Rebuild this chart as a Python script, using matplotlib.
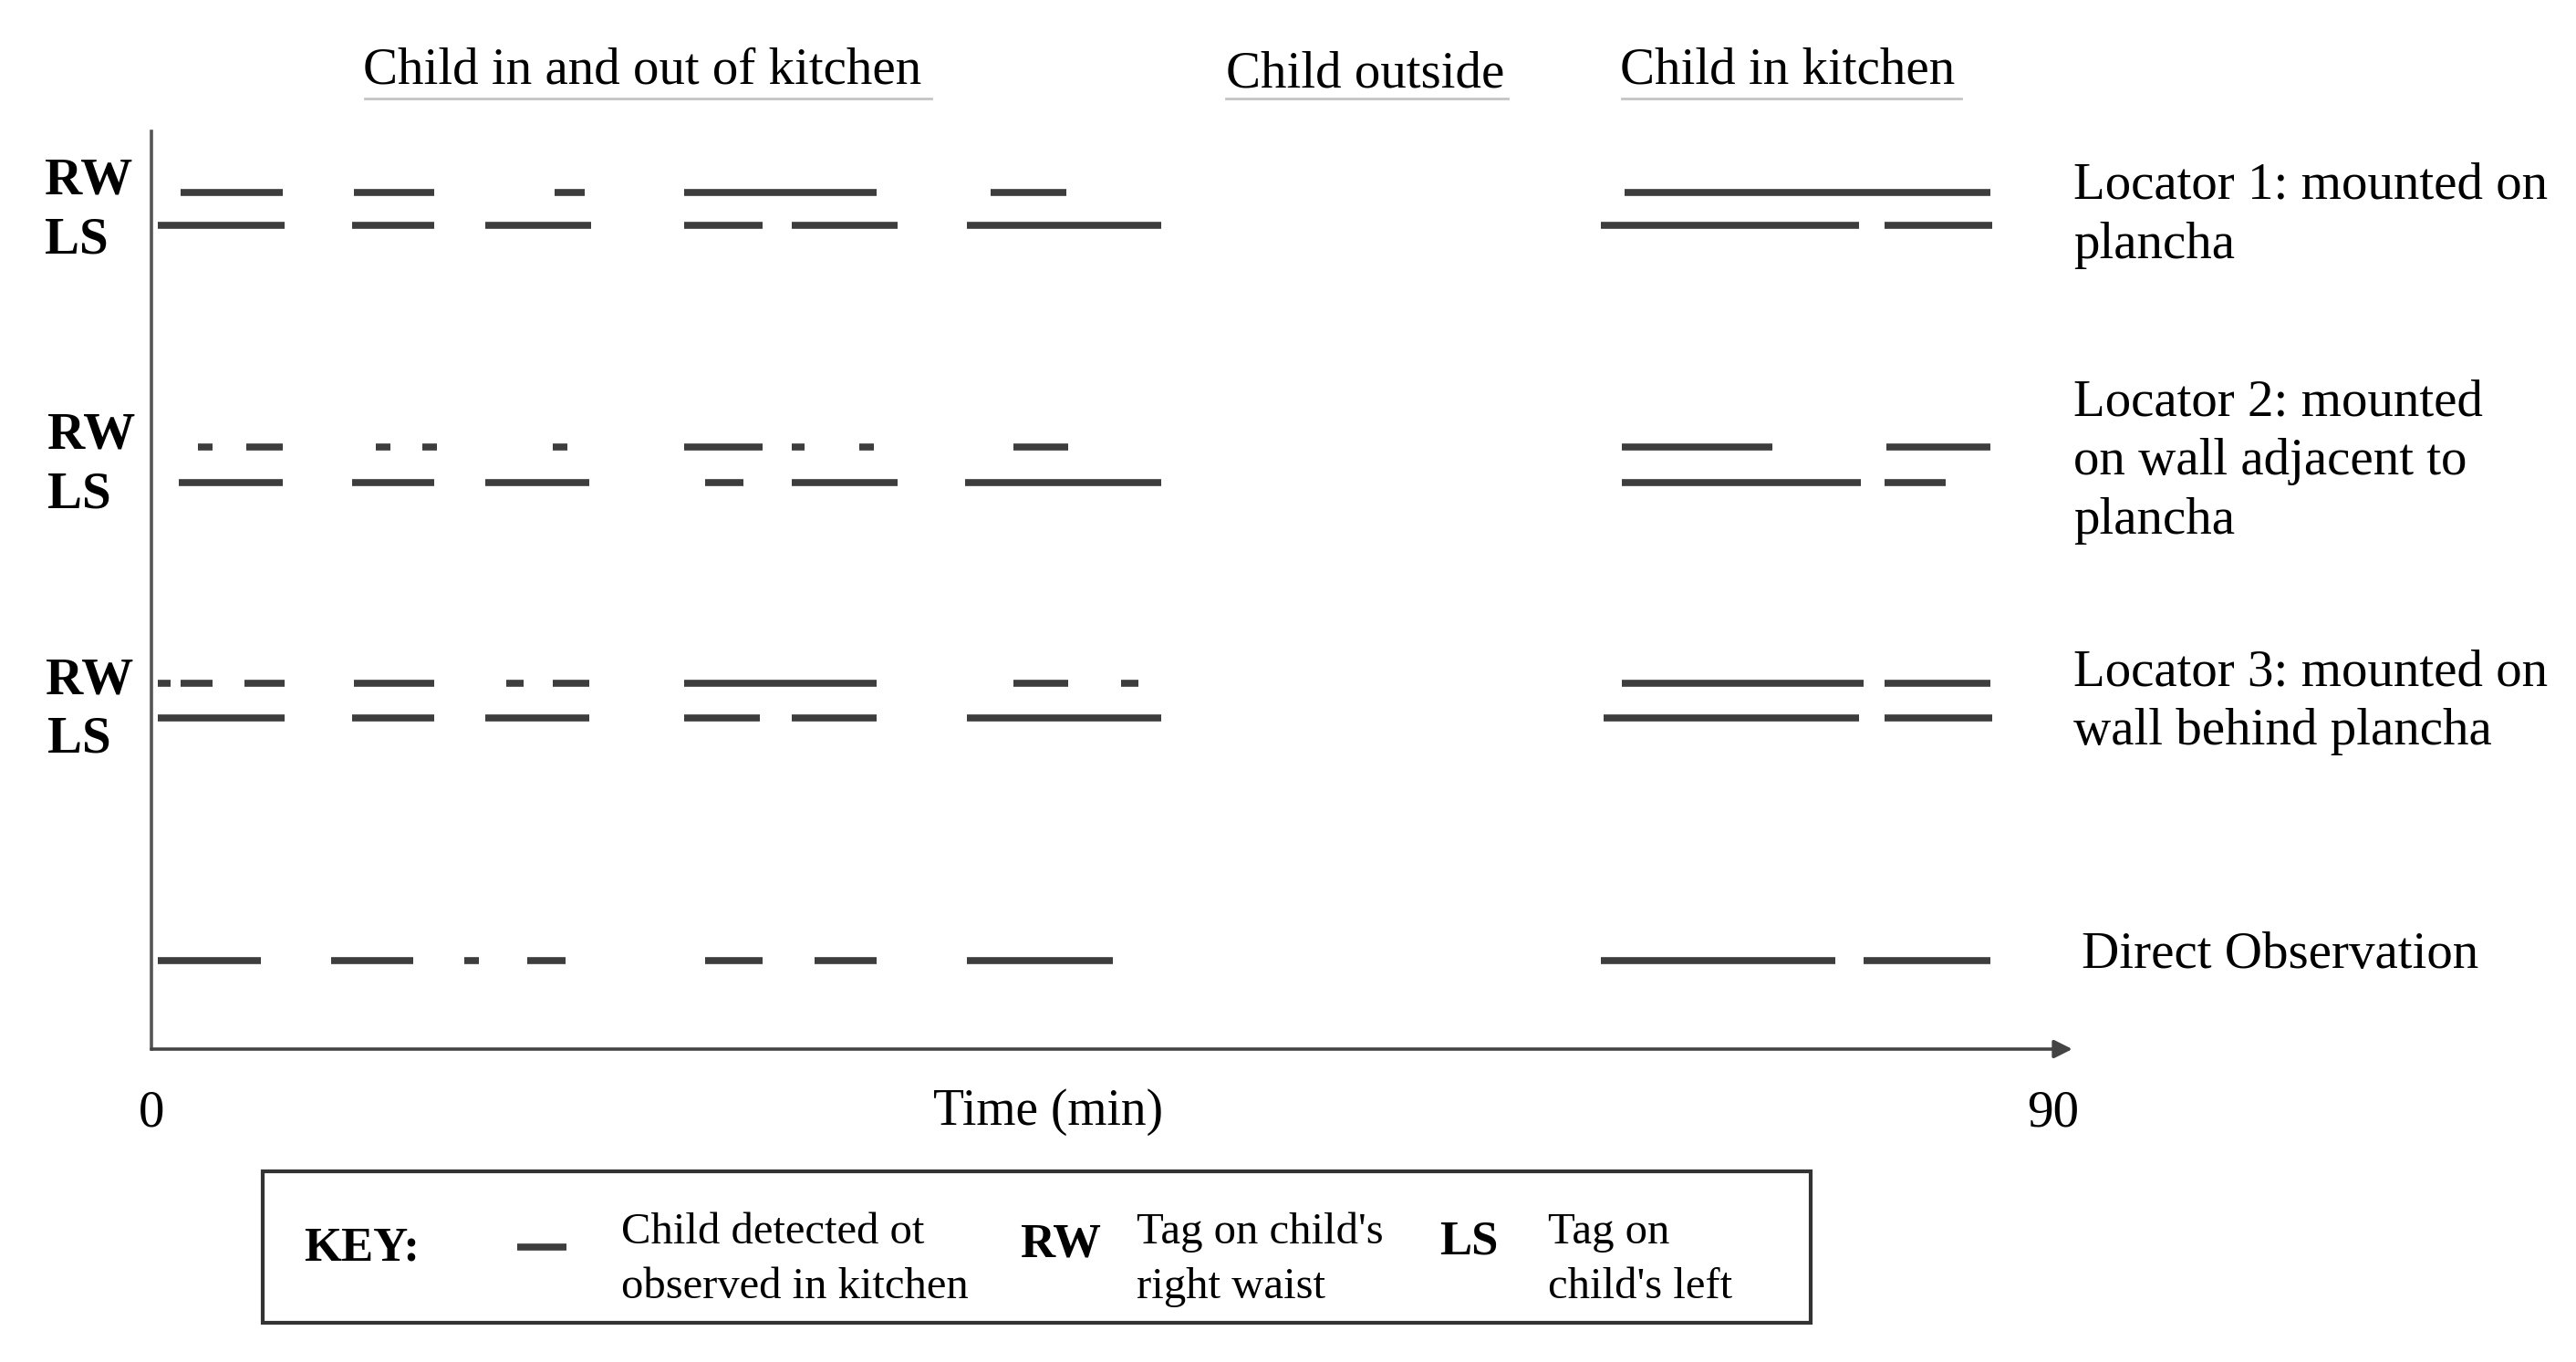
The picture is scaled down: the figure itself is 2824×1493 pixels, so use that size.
# Detection timeline of child tags at three locators vs. direct observation
import matplotlib.pyplot as plt
from matplotlib.patches import Rectangle

plt.rcParams['font.family'] = ['Liberation Serif', 'DejaVu Serif']

# detection intervals (start, end) in minutes
loc1_rw = [(1.4, 6.2), (9.6, 13.4), (19.1, 20.5), (25.2, 34.3), (39.7, 43.3), (69.7, 87.0)]
loc1_ls = [(0.3, 6.3), (9.5, 13.4), (15.8, 20.8), (25.2, 28.9), (30.3, 35.3), (38.6, 47.8),
           (68.6, 80.8), (82.0, 87.1)]
loc2_rw = [(2.2, 2.9), (4.5, 6.2), (10.6, 11.3), (12.8, 13.5), (19.0, 19.7), (25.2, 28.9),
           (30.3, 30.9), (33.5, 34.2), (40.8, 43.4), (69.6, 76.7), (82.1, 87.0)]
loc2_ls = [(1.3, 6.2), (9.5, 13.4), (15.8, 20.7), (26.2, 28.0), (30.3, 35.3), (38.5, 47.8),
           (69.6, 80.9), (82.0, 84.9)]
loc3_rw = [(0.3, 0.9), (1.4, 2.9), (4.4, 6.3), (9.6, 13.4), (16.8, 17.6), (19.0, 20.7),
           (25.2, 34.3), (40.8, 43.4), (45.9, 46.7), (69.6, 81.0), (82.0, 87.0)]
loc3_ls = [(0.3, 6.3), (9.5, 13.4), (15.8, 20.7), (25.2, 28.8), (30.3, 34.3), (38.6, 47.8),
           (68.7, 80.8), (82.0, 87.1)]
direct = [(0.3, 5.2), (8.5, 12.4), (14.8, 15.5), (17.8, 19.6), (26.2, 28.9), (31.4, 34.3),
          (38.6, 45.5), (68.6, 79.7), (81.0, 87.0)]

series = [loc1_rw, loc1_ls, loc2_rw, loc2_ls, loc3_rw, loc3_ls, direct]
row_y = [117, 137, 272, 293.5, 415.5, 436.5, 584]   # vertical placement (layout units)

fig = plt.figure(figsize=(28.24, 14.93), dpi=100)
W, H = 2824, 1493
ax = fig.add_axes([166 / W, (H - 1150) / H, (2251 - 166) / W, (1150 - 144) / H])
ax.set_xlim(0, 90)
ax.set_ylim(638, 80)
ax.patch.set_visible(False)

seg_col = '#3d3d3d'
for y, segs in zip(row_y, series):
    ax.hlines([y] * len(segs), [s for s, e in segs], [e for s, e in segs],
              colors=seg_col, linewidth=5.5, capstyle='butt')

for s in ['top', 'right', 'bottom']:
    ax.spines[s].set_visible(False)
ax.spines['left'].set_color('#555555')
ax.spines['left'].set_linewidth(2.6)
ax.set_yticks([])
ax.annotate('', xy=(90.9, 638), xytext=(0, 638), xycoords='data',
            annotation_clip=False,
            arrowprops=dict(arrowstyle='-|>', color='#444444', lw=2.6,
                            mutation_scale=30, shrinkA=0, shrinkB=0))
ax.set_xticks([0, 90])
ax.set_xticklabels(['0', '90'], fontsize=41)
ax.tick_params(axis='x', length=0, pad=32)
ax.set_xlabel('Time (min)', fontsize=40)
ax.xaxis.set_label_coords(0.4715, -0.043)

# overlay in reference pixel units for annotations
ov = fig.add_axes([0, 0, 1, 1])
ov.set_xlim(0, 1568)
ov.set_ylim(829, 0)
ov.axis('off')

fs = 41
# section headers with underline
for label, cx, x0, x1, yb in [('Child in and out of kitchen', 391, 222, 567, 51),
                              ('Child outside', 831, 746, 918, 53),
                              ('Child in kitchen', 1088, 987, 1194, 51)]:
    ov.text(cx, yb, label, fontsize=fs, ha='center', va='baseline')
    ov.plot([x0, x1], [60, 60], color='#c4c4c4', lw=2)

# RW / LS row labels
for lab, x, yb in [('RW', 27, 118), ('LS', 27, 154), ('RW', 29, 273), ('LS', 29, 309),
                   ('RW', 28, 422), ('LS', 29, 458)]:
    ov.text(x, yb, lab, fontsize=fs, fontweight='bold', ha='left', va='baseline')

# right-hand locator descriptions
right_lines = [('Locator 1: mounted on', 1262, 121), ('plancha', 1262, 157),
               ('Locator 2: mounted', 1262, 253), ('on wall adjacent to', 1262, 289),
               ('plancha', 1262, 325),
               ('Locator 3: mounted on', 1262, 417), ('wall behind plancha', 1262, 453),
               ('Direct Observation', 1267, 589)]
for txt, x, yb in right_lines:
    ov.text(x, yb, txt, fontsize=fs, ha='left', va='baseline')

# key box
ov.add_patch(Rectangle((160, 713), 942, 92, fill=False, edgecolor='#333333', lw=3))
kfs = 35
ov.text(185, 767, 'KEY:', fontsize=38, fontweight='bold', ha='left', va='baseline')
ov.plot([315, 345], [759, 759], color=seg_col, lw=5.5, solid_capstyle='butt')
ov.text(378, 757, 'Child detected ot', fontsize=kfs, ha='left', va='baseline')
ov.text(378, 790, 'observed in kitchen', fontsize=kfs, ha='left', va='baseline')
ov.text(621, 765, 'RW', fontsize=38, fontweight='bold', ha='left', va='baseline')
ov.text(692, 757, "Tag on child's", fontsize=kfs, ha='left', va='baseline')
ov.text(692, 790, 'right waist', fontsize=kfs, ha='left', va='baseline')
ov.text(876, 763, 'LS', fontsize=38, fontweight='bold', ha='left', va='baseline')
ov.text(942, 757, 'Tag on', fontsize=kfs, ha='left', va='baseline')
ov.text(942, 790, "child's left", fontsize=kfs, ha='left', va='baseline')

fig.savefig('out.png', dpi=100, facecolor='white')
